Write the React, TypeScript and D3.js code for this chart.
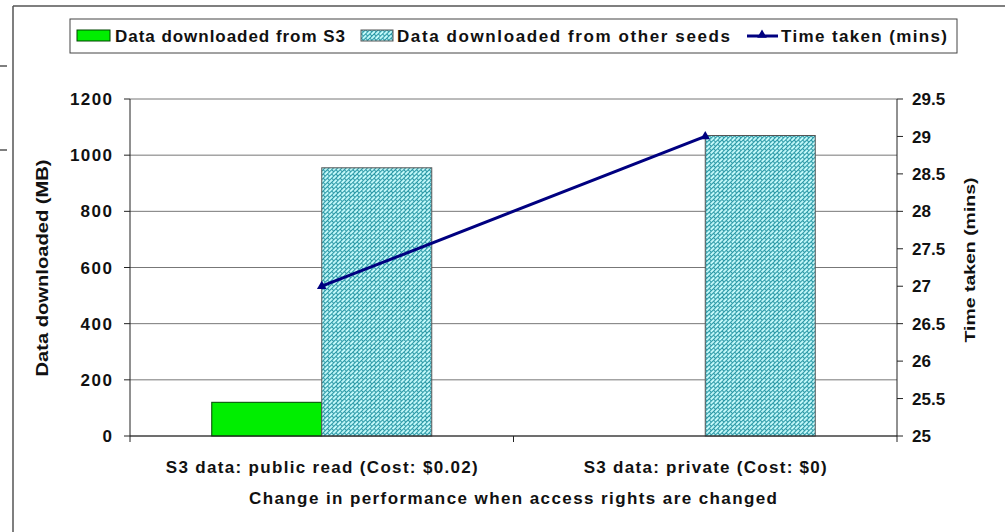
import React from 'react';
import * as d3 from 'd3';

// chart values
const categories = ['S3 data: public read (Cost: $0.02)', 'S3 data: private (Cost: $0)'];
const fromS3 = [120, 0];
const fromSeeds = [955, 1070];
const timeTaken = [27, 29];
const leftTicks = [0, 200, 400, 600, 800, 1000, 1200];
const rightTicks = [25, 25.5, 26, 26.5, 27, 27.5, 28, 28.5, 29, 29.5];
const seriesNames = ['Data downloaded from S3', 'Data downloaded from other seeds', 'Time taken (mins)'];

const FONT = '"Liberation Sans", Arial, sans-serif';

const App = () => {
  const width = 1005;
  const height = 532;
  const plot = { left: 130, right: 897, top: 99, bottom: 436 };

  const x = d3.scaleBand().domain(categories).range([plot.left, plot.right]);
  const inner = d3.scaleBand().domain(['s3', 'seeds']).range([-110, 110]);
  const yLeft = d3.scaleLinear().domain([0, 1200]).range([plot.bottom, plot.top]);
  const yRight = d3.scaleLinear().domain([25, 29.5]).range([plot.bottom, plot.top]);

  const center = (c: string) => (x(c) as number) + x.bandwidth() / 2;

  const linePts: [number, number][] = categories.map((c, i) => [center(c), yRight(timeTaken[i])]);
  const lineGen = d3.line();
  const tri = d3.symbol().type(d3.symbolTriangle).size(40)();

  const labelWidths = [312, 243];

  return (
    <svg width={width} height={height} style={{ position: 'absolute', left: 0, top: 0, background: '#fff' }}
      fontFamily={FONT} fontWeight="bold" fill="#111">
      <defs>
        <pattern id="hatch" width="6" height="6" patternUnits="userSpaceOnUse" patternTransform="rotate(-45)">
          <rect width="6" height="6" fill="#ccffff" />
          <line x1="0" y1="0.5" x2="6" y2="0.5" stroke="#2b98a6" strokeWidth="1.2" />
          <line x1="0.5" y1="0" x2="0.5" y2="3" stroke="#2b98a6" strokeWidth="1.1" />
          <line x1="3.5" y1="3" x2="3.5" y2="6" stroke="#2b98a6" strokeWidth="1.1" />
          <line x1="0" y1="3.5" x2="6" y2="3.5" stroke="#2b98a6" strokeWidth="1.2" />
        </pattern>
      </defs>

      {/* outer frame remnants */}
      <line x1={13} x2={width} y1={6} y2={6} stroke="#555" strokeWidth={1.5} />
      <line x1={13} x2={13} y1={6} y2={height} stroke="#555" strokeWidth={1.5} />
      <line x1={0} x2={7} y1={66} y2={66} stroke="#555" strokeWidth={1.5} />
      <line x1={0} x2={7} y1={150} y2={150} stroke="#555" strokeWidth={1.5} />

      {/* legend */}
      <rect x={70} y={19} width={887} height={34} fill="#fff" stroke="#444" strokeWidth={1} />
      <rect x={77} y={30} width={33} height={11} fill="#00ee00" stroke="#004400" strokeWidth={1} />
      <text x={115} y={42} fontSize={17} textLength={230} lengthAdjust="spacing">{seriesNames[0]}</text>
      <rect x={361} y={30} width={32} height={11} fill="url(#hatch)" stroke="#555" strokeWidth={1} />
      <text x={397} y={42} fontSize={17} textLength={333} lengthAdjust="spacing">{seriesNames[1]}</text>
      <line x1={747} x2={778} y1={36} y2={36} stroke="#000080" strokeWidth={3} />
      <path d={tri as string} transform="translate(762,35)" fill="#000080" />
      <text x={781} y={42} fontSize={17} textLength={166} lengthAdjust="spacing">{seriesNames[2]}</text>

      {/* gridlines */}
      {leftTicks.map(t => (
        <line key={'g' + t} x1={plot.left} x2={plot.right} y1={yLeft(t)} y2={yLeft(t)} stroke="#777" strokeWidth={1} />
      ))}

      {/* bars */}
      {categories.map((c, i) => (
        <g key={c}>
          {fromS3[i] > 0 && (
            <rect x={center(c) + (inner('s3') as number)} y={yLeft(fromS3[i])} width={inner.bandwidth()}
              height={plot.bottom - yLeft(fromS3[i])} fill="#00ee00" stroke="#004400" strokeWidth={1} />
          )}
          <rect x={center(c) + (inner('seeds') as number)} y={yLeft(fromSeeds[i])} width={inner.bandwidth()}
            height={plot.bottom - yLeft(fromSeeds[i])} fill="url(#hatch)" stroke="#555" strokeWidth={1} />
        </g>
      ))}

      {/* axes */}
      <line x1={plot.left} x2={plot.left} y1={plot.top} y2={plot.bottom} stroke="#222" />
      <line x1={plot.right} x2={plot.right} y1={plot.top} y2={plot.bottom} stroke="#222" />
      <line x1={plot.left} x2={plot.right} y1={plot.bottom} y2={plot.bottom} stroke="#222" />
      {[plot.left, (x(categories[1]) as number), plot.right].map((px, i) => (
        <line key={'xt' + i} x1={px} x2={px} y1={plot.bottom} y2={plot.bottom + 6} stroke="#222" />
      ))}
      {leftTicks.map(t => (
        <g key={'l' + t}>
          <line x1={plot.left - 6} x2={plot.left} y1={yLeft(t)} y2={yLeft(t)} stroke="#222" />
          <text x={112} y={yLeft(t)} dy="0.36em" textAnchor="end" fontSize={17}
            textLength={String(t).length * 10.5} lengthAdjust="spacing">{t}</text>
        </g>
      ))}
      {rightTicks.map(t => (
        <g key={'r' + t}>
          <line x1={plot.right} x2={plot.right + 6} y1={yRight(t)} y2={yRight(t)} stroke="#222" />
          <text x={912} y={yRight(t)} dy="0.36em" textAnchor="start" fontSize={17}>{t}</text>
        </g>
      ))}

      {/* time line */}
      <path d={lineGen(linePts) as string} fill="none" stroke="#000080" strokeWidth={3} />
      {linePts.map((p, i) => (
        <path key={'m' + i} d={tri as string} transform={`translate(${p[0]},${p[1]})`} fill="#000080" />
      ))}

      {/* category labels */}
      {categories.map((c, i) => (
        <text key={'cl' + i} x={center(c)} y={467} dy="0.36em" textAnchor="middle" fontSize={17}
          textLength={labelWidths[i]} lengthAdjust="spacing">{c}</text>
      ))}

      {/* axis titles */}
      <text x={513} y={498} dy="0.36em" textAnchor="middle" fontSize={17} textLength={528}
        lengthAdjust="spacing">Change in performance when access rights are changed</text>
      <text transform="translate(42,268) rotate(-90)" dy="0.36em" textAnchor="middle" fontSize={16}
        textLength={217} lengthAdjust="spacingAndGlyphs">Data downloaded (MB)</text>
      <text transform="translate(970,260) rotate(-90)" dy="0.36em" textAnchor="middle" fontSize={15}
        textLength={165} lengthAdjust="spacingAndGlyphs">Time taken (mins)</text>
    </svg>
  );
};

export default App;
